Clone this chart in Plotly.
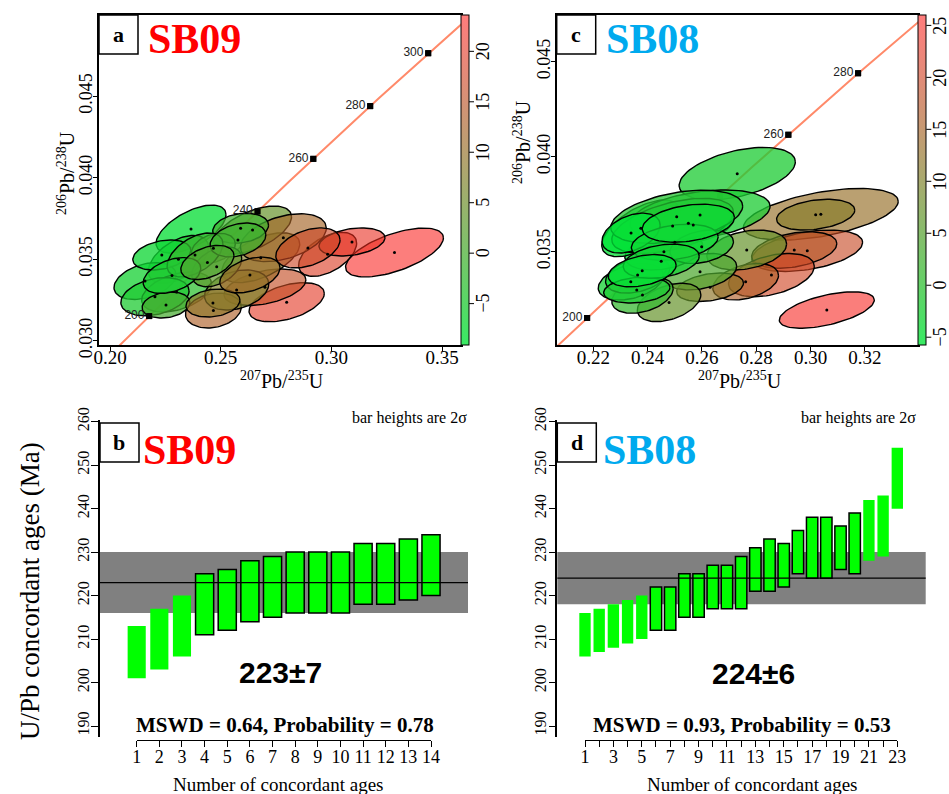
import numpy as np
import plotly.graph_objects as go

W, H = 949, 794

# ---------------- data ----------------
# SB09 (panel a): error ellipses  (207Pb/235U, 206Pb/238U, half-widths, error correlation, discordance %)
sb09_x = [0.2366, 0.3285, 0.2983, 0.3093, 0.2798, 0.2700, 0.2681, 0.2644, 0.2783, 0.2894,
          0.2309, 0.2158, 0.2301, 0.2234, 0.2203, 0.2590, 0.2467, 0.2467, 0.2572, 0.2482,
          0.2253, 0.2465, 0.2632, 0.2384, 0.2578, 0.2280, 0.2440]
sb09_y = [0.03685, 0.03541, 0.03530, 0.03606, 0.03236, 0.03328, 0.03509, 0.03679, 0.03632, 0.03569,
          0.03499, 0.03366, 0.03299, 0.03526, 0.03270, 0.03690, 0.03567, 0.03185, 0.03311, 0.03454,
          0.03219, 0.03231, 0.03403, 0.03526, 0.03618, 0.03400, 0.03480]
sb09_sx = [0.0158, 0.0221, 0.0131, 0.0149, 0.0170, 0.0185, 0.0176, 0.0176, 0.0194, 0.0145,
           0.0136, 0.0140, 0.0158, 0.0131, 0.0154, 0.0126, 0.0099, 0.0126, 0.0145, 0.0113,
           0.0108, 0.0122, 0.0136, 0.0126, 0.0126, 0.0130, 0.0120]
sb09_sy = [0.00147, 0.00150, 0.00135, 0.00086, 0.00120, 0.00112, 0.00153, 0.00147, 0.00147, 0.00123,
           0.00147, 0.00113, 0.00123, 0.00092, 0.00117, 0.00092, 0.00092, 0.00107, 0.00123, 0.00123,
           0.00080, 0.00086, 0.00110, 0.00135, 0.00104, 0.00110, 0.00105]
sb09_rho = [0.60, 0.60, 0.50, 0.30, 0.45, 0.40, 0.55, 0.55, 0.40, 0.40,
            0.50, 0.35, 0.40, 0.30, 0.30, 0.20, 0.30, 0.20, 0.30, 0.40,
            0.20, 0.20, 0.40, 0.50, 0.30, 0.40, 0.40]
sb09_disc = [-8, 23, 19, 21, 20, 16, 8, 4, 12, 17,
             -4, -6, -3, -7, -5, -1, 0, 13, 7, 3,
             0, 9, 11, -2, -1, -5, 1]

# SB08 (panel c)
sb08_x = [0.2730, 0.3060, 0.3038, 0.3019, 0.2988, 0.2940, 0.2856, 0.2761, 0.2630, 0.2765,
          0.2593, 0.2479, 0.2381, 0.2338, 0.2363, 0.2460, 0.2375, 0.2568, 0.2593, 0.2492,
          0.2360, 0.2507, 0.2339, 0.2599, 0.2500, 0.2450, 0.2550, 0.2380]
sb08_y = [0.03911, 0.03193, 0.03697, 0.03695, 0.03505, 0.03509, 0.03377, 0.03342, 0.03313, 0.03509,
          0.03395, 0.03233, 0.03272, 0.03342, 0.03377, 0.03500, 0.03623, 0.03641, 0.03693, 0.03636,
          0.03298, 0.03684, 0.03598, 0.03526, 0.03550, 0.03450, 0.03650, 0.03400]
sb08_sx = [0.0214, 0.0175, 0.0285, 0.0144, 0.0204, 0.0157, 0.0158, 0.0121, 0.0123, 0.0147,
           0.0135, 0.0117, 0.0113, 0.0120, 0.0118, 0.0144, 0.0144, 0.0147, 0.0258, 0.0224,
           0.0122, 0.0243, 0.0107, 0.0117, 0.0160, 0.0140, 0.0170, 0.0125]
sb08_sy = [0.00138, 0.00096, 0.00136, 0.00081, 0.00109, 0.00096, 0.00114, 0.00096, 0.00075, 0.00105,
           0.00096, 0.00101, 0.00096, 0.00096, 0.00095, 0.00096, 0.00149, 0.00096, 0.00132, 0.00145,
           0.00068, 0.00140, 0.00105, 0.00088, 0.00095, 0.00090, 0.00100, 0.00085]
sb08_rho = [0.45, 0.55, 0.50, 0.30, 0.40, 0.35, 0.40, 0.35, 0.30, 0.30,
            0.30, 0.40, 0.35, 0.35, 0.35, 0.30, 0.60, 0.30, 0.35, 0.50,
            0.20, 0.40, 0.40, 0.30, 0.30, 0.30, 0.30, 0.35]
sb08_disc = [-2, 25, 13, 11, 19, 17, 20, 16, 12, 7,
             4, 7, 1, -3, -4, -5, -5, -3, -2, -4,
             -2, -1, -6, -1, -4, -3, -4, -5]

# concordia age markers (Ma)
conc_ages = [200, 220, 240, 260, 280, 300]
sb09_age_labels = [200, 240, 260, 280, 300]
sb08_age_labels = [200, 260, 280]

# weighted-mean plots: 2-sigma age bars (Ma)
sb09_lo = [201, 203, 206, 211, 212, 214, 215, 216, 216, 216, 218, 218, 219, 220]
sb09_hi = [213, 217, 220, 225, 226, 228, 229, 230, 230, 230, 232, 232, 233, 234]
sb09_rejected = [1, 2, 3]
sb09_mean, sb09_err = 223, 7
sb09_mswd, sb09_prob = 0.64, 0.78

sb08_lo = [206, 207, 208, 209, 210, 212, 212, 215, 215, 217, 217, 217, 221, 221, 222, 225, 224, 224, 226, 225, 228, 229, 240]
sb08_hi = [216, 217, 218, 219, 220, 222, 222, 225, 225, 227, 227, 229, 231, 233, 232, 235, 238, 238, 236, 239, 242, 243, 254]
sb08_rejected = [1, 2, 3, 4, 5, 21, 22, 23]
sb08_mean, sb08_err = 224, 6
sb08_mswd, sb08_prob = 0.93, 0.53

cbar_a = (-9.1, 23.6)
cbar_c = (-5.75, 26.0)
cbar_a_ticks = [-5, 0, 5, 10, 15, 20]
cbar_c_ticks = [-5, 0, 5, 10, 15, 20, 25]

# ---------------- helpers ----------------
SERIF = "Liberation Serif"
SANS = "Liberation Sans"
GREEN = np.array([0, 228, 55])
RED = np.array([255, 30, 30])


def PX(x):
    return x / W


def PY(y):
    return 1 - y / H


def ramp(t):
    t = min(max(t, 0.0), 1.0)
    c = GREEN + (RED - GREEN) * t
    a = 0.78 - 0.2 * t
    return c, a


def fill_rgba(v, vmin, vmax):
    c, a = ramp((v - vmin) / (vmax - vmin))
    return "rgba(%d,%d,%d,%.2f)" % (c[0], c[1], c[2], a)


def cscale():
    out = []
    for s in np.linspace(0, 1, 11):
        c, a = ramp(s)
        cc = c * a + 255 * (1 - a)
        out.append([float(s), "rgb(%d,%d,%d)" % tuple(int(round(v)) for v in cc)])
    return out


L235, L238 = 9.8485e-4, 1.55125e-4
tt = np.linspace(150, 340, 200)

fig = go.Figure()


def concordia(xa, ya):
    fig.add_trace(go.Scatter(x=np.exp(L235 * tt) - 1, y=np.exp(L238 * tt) - 1, mode="lines",
                             line=dict(color="#ff8a6a", width=2), xaxis=xa, yaxis=ya,
                             showlegend=False, hoverinfo="skip"))
    ag = np.array(conc_ages, float)
    fig.add_trace(go.Scatter(x=np.exp(L235 * ag) - 1, y=np.exp(L238 * ag) - 1, mode="markers",
                             marker=dict(symbol="square", size=6, color="black"),
                             xaxis=xa, yaxis=ya, showlegend=False, hoverinfo="skip"))


def conc_labels(xa, ya, labels):
    lb = np.array(labels, float)
    fig.add_trace(go.Scatter(x=np.exp(L235 * lb) - 1, y=np.exp(L238 * lb) - 1, mode="markers+text",
                             marker=dict(symbol="square", size=6, color="black"),
                             text=[str(a) for a in labels], textposition="middle left",
                             textfont=dict(family=SANS, size=12, color="#222"),
                             xaxis=xa, yaxis=ya, showlegend=False, hoverinfo="skip"))


def ellipses(xs, ys, sxs, sys_, rhos, vals, vr, xa, ya):
    th = np.linspace(0, 2 * np.pi, 90)
    for x, y, sx, sy, r, v in zip(xs, ys, sxs, sys_, rhos, vals):
        ex = x + sx * np.cos(th)
        ey = y + sy * (r * np.cos(th) + np.sqrt(1 - r * r) * np.sin(th))
        fig.add_trace(go.Scatter(x=ex, y=ey, mode="lines", fill="toself",
                                 fillcolor=fill_rgba(v, *vr),
                                 line=dict(color="black", width=1.4),
                                 xaxis=xa, yaxis=ya, showlegend=False, hoverinfo="skip"))
    fig.add_trace(go.Scatter(x=xs, y=ys, mode="markers", marker=dict(size=3, color="black"),
                             xaxis=xa, yaxis=ya, showlegend=False, hoverinfo="skip"))


concordia("x", "y")
ellipses(sb09_x, sb09_y, sb09_sx, sb09_sy, sb09_rho, sb09_disc, cbar_a, "x", "y")
conc_labels("x", "y", sb09_age_labels)
concordia("x2", "y2")
ellipses(sb08_x, sb08_y, sb08_sx, sb08_sy, sb08_rho, sb08_disc, cbar_c, "x2", "y2")
conc_labels("x2", "y2", sb08_age_labels)

# colourbar carriers
fig.add_trace(go.Scatter(x=[sb09_x[0]], y=[sb09_y[0]], mode="markers",
                         marker=dict(color=[0], coloraxis="coloraxis", opacity=0),
                         xaxis="x", yaxis="y", showlegend=False, hoverinfo="skip"))
fig.add_trace(go.Scatter(x=[sb08_x[0]], y=[sb08_y[0]], mode="markers",
                         marker=dict(color=[0], coloraxis="coloraxis2", opacity=0),
                         xaxis="x2", yaxis="y2", showlegend=False, hoverinfo="skip"))


def bars(lo, hi, rej, xa, ya):
    n = np.arange(1, len(lo) + 1)
    lo = np.array(lo); hi = np.array(hi)
    acc = np.array([i not in rej for i in n])
    fig.add_trace(go.Bar(x=n[acc], y=(hi - lo)[acc], base=lo[acc], width=0.8,
                         marker=dict(color="#00ff00", line=dict(color="black", width=1.5)),
                         xaxis=xa, yaxis=ya, showlegend=False, hoverinfo="skip"))
    fig.add_trace(go.Bar(x=n[~acc], y=(hi - lo)[~acc], base=lo[~acc], width=0.8,
                         marker=dict(color="#00ff00", line=dict(width=0)),
                         xaxis=xa, yaxis=ya, showlegend=False, hoverinfo="skip"))


bars(sb09_lo, sb09_hi, sb09_rejected, "x3", "y3")
bars(sb08_lo, sb08_hi, sb08_rejected, "x4", "y4")
# carriers for the R-style count axes
fig.add_trace(go.Scatter(x=[1], y=[200], mode="markers", marker=dict(opacity=0), xaxis="x5", yaxis="y3",
                         showlegend=False, hoverinfo="skip"))
fig.add_trace(go.Scatter(x=[1], y=[200], mode="markers", marker=dict(opacity=0), xaxis="x6", yaxis="y4",
                         showlegend=False, hoverinfo="skip"))

# ---------------- layout ----------------
top_dom = [PY(345), PY(15)]
bot_dom = [PY(737), PY(420)]
ax_common = dict(showline=True, linecolor="black", linewidth=1.5, mirror=True, ticks="outside",
                 ticklen=4, tickcolor="black", showgrid=False, zeroline=False, automargin=False,
                 ticklabelstandoff=-10,
                 tickfont=dict(family=SERIF, size=19, color="black"))


def cbar(x0):
    return dict(x=PX(x0), xanchor="left", y=PY(180), yanchor="middle", len=330 / H, lenmode="fraction",
                thickness=8, thicknessmode="pixels", outlinewidth=1, outlinecolor="black", xpad=0, ypad=0,
                ticks="", showticklabels=False, borderwidth=0)


yb = dict(showline=True, linecolor="black", linewidth=1.5, ticks="outside", ticklen=7, tickcolor="black",
          tickvals=list(range(190, 261, 10)), tickangle=-90, showgrid=False, zeroline=False, automargin=False,
          ticklabelstandoff=-4,
          tickfont=dict(family=SERIF, size=16, color="black"), range=[187.47, 260.39], domain=bot_dom)

fig.update_layout(
    width=W, height=H, margin=dict(l=0, r=0, t=0, b=0, pad=0, autoexpand=False),
    paper_bgcolor="white", plot_bgcolor="rgba(0,0,0,0)", barmode="overlay",
    xaxis=dict(ax_common, domain=[PX(99), PX(461)], range=[0.19503, 0.35855],
               tickvals=[0.20, 0.25, 0.30, 0.35], tickformat=".2f", anchor="y"),
    yaxis=dict(ax_common, domain=top_dom, range=[0.029736, 0.049982],
               tickvals=[0.030, 0.035, 0.040, 0.045], tickformat=".3f", tickangle=-90, anchor="x",
               ticklabelstandoff=-6, tickfont=dict(family=SERIF, size=18, color="black")),
    xaxis2=dict(ax_common, domain=[PX(556.7), PX(918.3)], range=[0.2065, 0.3397],
                tickvals=[0.22, 0.24, 0.26, 0.28, 0.30, 0.32, 0.34], tickformat=".2f", anchor="y2"),
    yaxis2=dict(ax_common, domain=top_dom, range=[0.03009, 0.04746],
                tickvals=[0.035, 0.040, 0.045], tickformat=".3f", tickangle=-90, anchor="x2",
                ticklabelstandoff=-6, tickfont=dict(family=SERIF, size=18, color="black")),
    xaxis3=dict(domain=[PX(100), PX(468)], range=[-0.621, 15.634], visible=False, anchor="y3"),
    yaxis3=dict(yb, anchor="x3"),
    xaxis4=dict(domain=[PX(557.3), PX(925.7)], range=[-0.951, 25.0], visible=False, anchor="y4"),
    yaxis4=dict(yb, anchor="x4"),
    xaxis5=dict(domain=[PX(136.7), PX(431)], range=[1, 14], anchor="free", position=PY(740),
                showline=True, linecolor="black", linewidth=1.2, ticks="outside", ticklen=6,
                tickcolor="black", tickvals=list(range(1, 15)), showgrid=False, zeroline=False,
                ticklabelstandoff=-6,
                automargin=False, tickfont=dict(family=SERIF, size=18, color="black")),
    xaxis6=dict(domain=[PX(585), PX(897.3)], range=[1, 23], anchor="free", position=PY(740),
                showline=True, linecolor="black", linewidth=1.2, ticks="outside", ticklen=6,
                tickcolor="black", tickvals=list(range(1, 24, 2)), showgrid=False, zeroline=False,
                minor=dict(tickvals=list(range(2, 23, 2)), ticks="outside", ticklen=6, tickcolor="black"),
                ticklabelstandoff=-6,
                automargin=False, tickfont=dict(family=SERIF, size=18, color="black")),
    coloraxis=dict(cmin=cbar_a[0], cmax=cbar_a[1], colorscale=cscale(), colorbar=cbar(461)),
    coloraxis2=dict(cmin=cbar_c[0], cmax=cbar_c[1], colorscale=cscale(), colorbar=cbar(918.3)),
)

shapes = []
annots = []


def label_box(x0, y0, letter):
    shapes.append(dict(type="rect", xref="paper", yref="paper", x0=PX(x0), x1=PX(x0 + 39),
                       y0=PY(y0 + 39), y1=PY(y0), line=dict(color="black", width=1.5),
                       fillcolor="white", layer="above"))
    annots.append(dict(x=PX(x0 + 19.5), y=PY(y0 + 19.5), xref="paper", yref="paper", text="<b>%s</b>" % letter,
                       showarrow=False, font=dict(family=SERIF, size=22, color="black"),
                       xanchor="center", yanchor="middle"))


def sample(x0, yc, name, col):
    annots.append(dict(x=PX(x0), y=PY(yc), xref="paper", yref="paper", text="<b>%s</b>" % name,
                       showarrow=False, font=dict(family=SERIF, size=42, color=col),
                       xanchor="left", yanchor="middle"))


label_box(99, 15, "a")
sample(146, 39, "SB09", "#ff0000")
label_box(556.7, 15, "c")
sample(604, 39, "SB08", "#00aaee")
label_box(100, 423, "b")
sample(141, 450, "SB09", "#ff0000")
label_box(557.3, 423, "d")
sample(601, 450, "SB08", "#00aaee")


def txt(x, y, s, size, fam=SERIF, angle=0):
    annots.append(dict(x=PX(x), y=PY(y), xref="paper", yref="paper", text=s, showarrow=False,
                       textangle=angle, font=dict(family=fam, size=size, color="black"),
                       xanchor="center", yanchor="middle"))


# colourbar tick marks + labels (strip spans 15..345 px)
for x0, (vmin, vmax), ticks in [(469, cbar_a, cbar_a_ticks), (926.3, cbar_c, cbar_c_ticks)]:
    for v in ticks:
        yy = 345 - (v - vmin) / (vmax - vmin) * 330
        shapes.append(dict(type="line", xref="paper", yref="paper", x0=PX(x0), x1=PX(x0 + 5),
                           y0=PY(yy), y1=PY(yy), line=dict(color="black", width=1)))
        txt(x0 + 14, yy, "−%d" % (-v) if v < 0 else str(v), 18, angle=-90)

ytitle = "<sup>206</sup>Pb/<sup>238</sup>U"
xtitle = "<sup>207</sup>Pb/<sup>235</sup>U"
txt(66, 173, ytitle, 20, angle=-90)
txt(522, 142, ytitle, 20, angle=-90)
txt(282, 380, xtitle, 20)
txt(740, 380, xtitle, 20)
txt(30, 591, "U/Pb concordant ages (Ma)", 27, angle=-90)

for xa, m, e in [("x3", sb09_mean, sb09_err), ("x4", sb08_mean, sb08_err)]:
    ya = "y" + xa[1:]
    shapes.append(dict(type="rect", xref=xa + " domain", x0=0, x1=1, yref=ya, y0=m - e, y1=m + e,
                       fillcolor="#808080", line=dict(width=0), layer="below"))
    shapes.append(dict(type="line", xref=xa + " domain", x0=0, x1=1, yref=ya, y0=m, y1=m,
                       line=dict(color="black", width=1.3), layer="above"))

txt(280, 672, "<b>%d±%d</b>" % (sb09_mean, sb09_err), 30, fam=SANS)
txt(753, 673, "<b>%d±%d</b>" % (sb08_mean, sb08_err), 30, fam=SANS)
txt(285, 725, "<b>MSWD = %.2f, Probability = %.2f</b>" % (sb09_mswd, sb09_prob), 21)
txt(742, 725, "<b>MSWD = %.2f, Probability = %.2f</b>" % (sb08_mswd, sb08_prob), 21)
txt(409, 418, "bar heights are 2σ", 16)
txt(858, 418, "bar heights are 2σ", 16)
txt(278, 784, "Number of concordant ages", 19)
txt(752, 784, "Number of concordant ages", 19)

fig.update_layout(shapes=shapes, annotations=annots)
fig.write_html("out.html", config={"displayModeBar": False},
               post_script="document.body.style.margin='0';document.body.style.padding='0';")
